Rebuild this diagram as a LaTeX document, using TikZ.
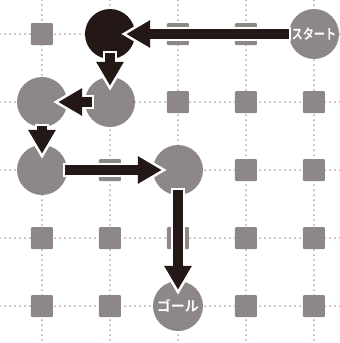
\documentclass[tikz,border=0pt]{standalone}
\usepackage{fontspec}
\usepackage{graphicx}
\newfontfamily\jpfont{Noto Sans CJK JP Bold}
\usepackage{tikz}
\usetikzlibrary{arrows.meta}
\definecolor{tilegray}{HTML}{8D8787}
\definecolor{dotgray}{HTML}{ADA8A8}
\definecolor{inkblack}{HTML}{231815}
\tikzset{gridline/.style={draw=dotgray, line width=2pt, line cap=round, dash pattern=on 0pt off 5pt}}
\tikzset{cell/.style={rectangle, fill=tilegray, minimum size=22pt, inner sep=0pt, rounded corners=1pt}}
\tikzset{spot/.style={circle, fill=tilegray, minimum size=50pt, inner sep=0pt, text=white,
    font=\jpfont\fontsize{14}{15}\selectfont}}
\tikzset{here/.style={spot, fill=inkblack}}
\tikzset{move/.style={draw=inkblack, line width=9.5pt, -{Triangle[width=26pt,length=24pt]},
    shorten <=-#1, shorten >=-9pt,
    preaction={draw=white, line width=14.5pt, -{Triangle[width=34.4pt,length=31.75pt]},
      shorten <=-#1-2.5pt, shorten >=-14.25pt}},
  move/.default=4pt}

\begin{document}
\begin{tikzpicture}[x=68pt,y=-68pt]
  \useasboundingbox (-0.6176,-0.5) rectangle (4.3824,4.5441);
  % dotted grid
  \foreach \i in {0,...,4} {
    \draw[gridline] (\i,-0.5) -- (\i,4.5441);
    \draw[gridline] (-0.6176,\i) -- (4.3824,\i);
  }
  % squares
  \foreach \i in {0,...,4} {
    \foreach \j in {0,...,4} {
      \node[cell] (sq-\i-\j) at (\i,\j) {};
    }
  }
  % circles on the route
  \foreach \x/\y/\name/\lab/\kind in {
    4/0/{\scalebox{0.8}[1]{スタート}}/start/spot,
    1/0/{}/c1/here,
    1/1/{}/c2/spot,
    0/1/{}/c3/spot,
    0/2/{}/c4/spot,
    2/2/{}/c5/spot,
    2/4/{ゴール}/goal/spot%
  } {
    \node[\kind] (\lab) at (\x, \y) {\name};
  }
  % route
  \foreach \u/\v/\gap in {start/c1/0pt, c1/c2/6pt, c2/c3/7pt, c3/c4/1pt, c4/c5/2pt, c5/goal/5pt} {
    \draw[move=\gap] (\u) -- (\v);
  }
\end{tikzpicture}
\end{document}
